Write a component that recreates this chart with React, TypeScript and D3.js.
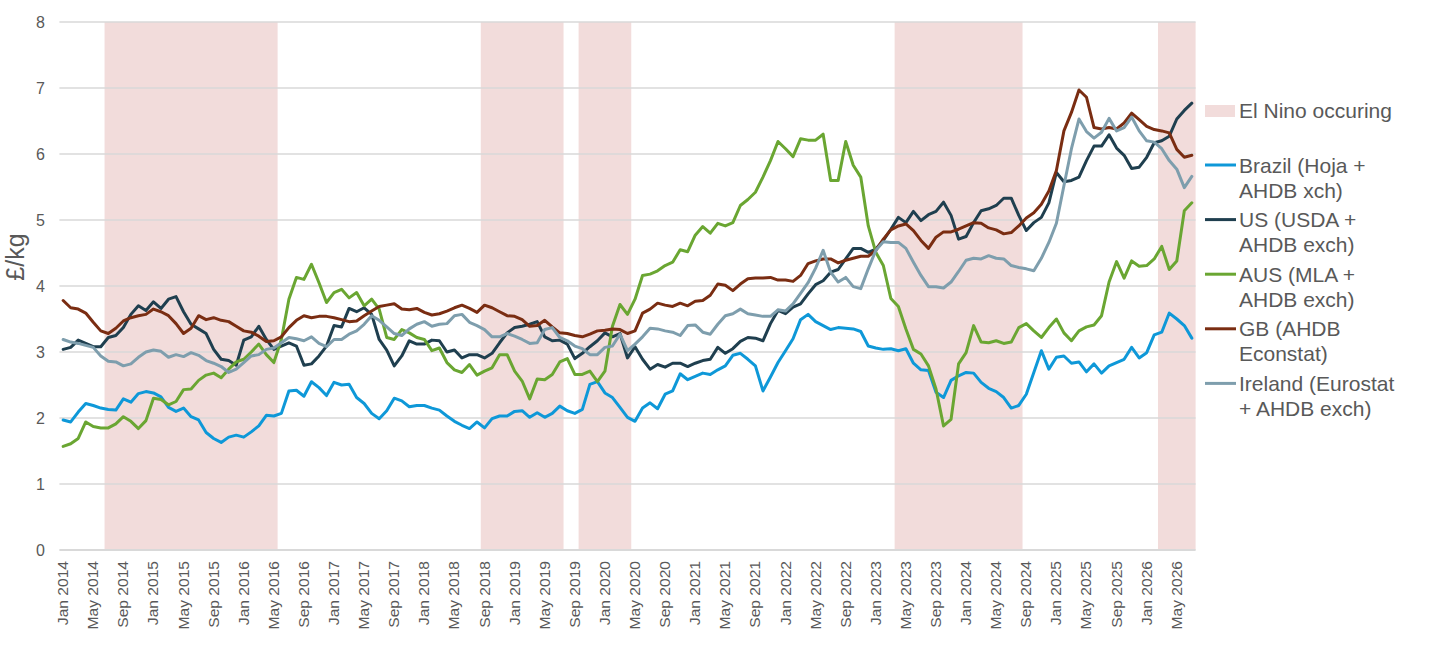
import { useEffect, useRef } from 'react'
import * as d3 from 'd3'

// Monthly categories Jan 2014 - Jul 2026
const months = d3.timeMonth.range(new Date(2014, 0, 1), new Date(2026, 7, 1))
const fmtMonth = d3.timeFormat('%b %Y')
const monthLabels = months.map(d => fmtMonth(d))

// El Nino periods (first and last month, inclusive)
const elNino: [string, string][] = [
  ['Jul 2014', 'May 2016'],
  ['Sep 2018', 'Jul 2019'],
  ['Oct 2019', 'Apr 2020'],
  ['Apr 2023', 'Aug 2024'],
  ['Mar 2026', 'Jul 2026'],
]

const yTicks = [0, 1, 2, 3, 4, 5, 6, 7, 8]

// £/kg
const brazil = [
  1.97, 1.94, 2.09, 2.22, 2.19, 2.15, 2.13, 2.12, 2.29, 2.24, 2.37, 2.40, 2.38, 2.32, 2.16, 2.10, 2.15, 2.02, 1.97, 1.78,
  1.69, 1.63, 1.71, 1.74, 1.71, 1.79, 1.88, 2.04, 2.03, 2.07, 2.41, 2.42, 2.33, 2.55, 2.46, 2.34, 2.54, 2.50, 2.51, 2.31,
  2.22, 2.07, 1.99, 2.11, 2.30, 2.26, 2.17, 2.19, 2.19, 2.15, 2.12, 2.03, 1.95, 1.89, 1.84, 1.94, 1.85, 1.99, 2.03, 2.03,
  2.10, 2.11, 2.01, 2.08, 2.01, 2.07, 2.18, 2.11, 2.07, 2.13, 2.51, 2.55, 2.38, 2.31, 2.16, 2.01, 1.95, 2.15, 2.23, 2.14,
  2.36, 2.41, 2.67, 2.58, 2.63, 2.68, 2.66, 2.73, 2.79, 2.95, 2.98, 2.89, 2.79, 2.41, 2.62, 2.84, 3.02, 3.20, 3.49, 3.57,
  3.46, 3.40, 3.34, 3.37, 3.36, 3.35, 3.31, 3.09, 3.06, 3.04, 3.05, 3.02, 3.05, 2.83, 2.73, 2.72, 2.39, 2.31, 2.57, 2.64,
  2.69, 2.68, 2.54, 2.45, 2.40, 2.31, 2.15, 2.19, 2.36, 2.69, 3.02, 2.74, 2.92, 2.94, 2.83, 2.85, 2.70, 2.82, 2.68, 2.79,
  2.84, 2.89, 3.07, 2.91, 2.99, 3.26, 3.30, 3.59, 3.50, 3.40, 3.21,
]

const us = [
  3.04, 3.07, 3.18, 3.13, 3.08, 3.08, 3.22, 3.25, 3.37, 3.57, 3.70, 3.63, 3.76, 3.66, 3.80, 3.84, 3.61, 3.42, 3.35, 3.28,
  3.04, 2.89, 2.87, 2.80, 3.18, 3.23, 3.39, 3.19, 3.04, 3.09, 3.14, 3.09, 2.80, 2.82, 2.94, 3.09, 3.40, 3.38, 3.66, 3.61,
  3.67, 3.57, 3.19, 3.03, 2.79, 2.94, 3.17, 3.12, 3.12, 3.18, 3.17, 3.00, 3.03, 2.91, 2.96, 2.96, 2.91, 2.98, 3.14, 3.29,
  3.37, 3.39, 3.42, 3.46, 3.23, 3.17, 3.18, 3.12, 2.90, 2.98, 3.08, 3.17, 3.29, 3.23, 3.28, 2.91, 3.08, 2.89, 2.74, 2.81,
  2.77, 2.83, 2.83, 2.78, 2.83, 2.87, 2.89, 3.07, 2.98, 3.05, 3.16, 3.22, 3.21, 3.17, 3.43, 3.63, 3.58, 3.68, 3.73, 3.88,
  4.02, 4.08, 4.21, 4.25, 4.41, 4.57, 4.57, 4.51, 4.56, 4.69, 4.86, 5.04, 4.96, 5.13, 4.99, 5.08, 5.13, 5.27, 5.07, 4.71,
  4.75, 4.96, 5.14, 5.17, 5.22, 5.33, 5.33, 5.07, 4.84, 4.96, 5.04, 5.26, 5.72, 5.58, 5.60, 5.65, 5.90, 6.12, 6.12, 6.29,
  6.09, 5.98, 5.78, 5.80, 5.95, 6.17, 6.20, 6.27, 6.53, 6.66, 6.77,
]

const aus = [
  1.57, 1.61, 1.69, 1.94, 1.87, 1.85, 1.85, 1.91, 2.02, 1.95, 1.84, 1.96, 2.30, 2.28, 2.20, 2.25, 2.43, 2.44, 2.57, 2.65,
  2.68, 2.61, 2.74, 2.85, 2.89, 3.00, 3.12, 2.96, 2.84, 3.19, 3.80, 4.13, 4.10, 4.33, 4.05, 3.75, 3.90, 3.95, 3.82, 3.90,
  3.70, 3.80, 3.65, 3.22, 3.19, 3.34, 3.29, 3.22, 3.19, 3.02, 3.06, 2.84, 2.73, 2.69, 2.81, 2.65, 2.71, 2.76, 2.96, 2.96,
  2.71, 2.56, 2.29, 2.59, 2.58, 2.66, 2.85, 2.90, 2.66, 2.66, 2.71, 2.55, 2.71, 3.39, 3.72, 3.57, 3.80, 4.16, 4.18, 4.23,
  4.31, 4.36, 4.55, 4.52, 4.77, 4.90, 4.80, 4.95, 4.91, 4.96, 5.22, 5.31, 5.42, 5.65, 5.90, 6.19, 6.08, 5.96, 6.23, 6.21,
  6.21, 6.30, 5.60, 5.60, 6.19, 5.83, 5.65, 4.91, 4.51, 4.31, 3.81, 3.69, 3.35, 3.04, 2.97, 2.79, 2.44, 1.88, 1.98, 2.82,
  2.99, 3.40, 3.15, 3.14, 3.17, 3.13, 3.15, 3.37, 3.43, 3.32, 3.22, 3.37, 3.50, 3.29, 3.17, 3.32, 3.38, 3.41, 3.55, 4.06,
  4.37, 4.12, 4.38, 4.30, 4.31, 4.41, 4.60, 4.25, 4.38, 5.14, 5.26,
]

const gb = [
  3.78, 3.67, 3.65, 3.59, 3.45, 3.32, 3.28, 3.36, 3.47, 3.52, 3.55, 3.57, 3.65, 3.61, 3.55, 3.43, 3.28, 3.36, 3.55, 3.49,
  3.52, 3.48, 3.46, 3.39, 3.32, 3.30, 3.24, 3.16, 3.17, 3.23, 3.37, 3.48, 3.55, 3.52, 3.54, 3.54, 3.52, 3.49, 3.46, 3.47,
  3.55, 3.62, 3.69, 3.71, 3.73, 3.65, 3.64, 3.66, 3.60, 3.56, 3.58, 3.62, 3.67, 3.71, 3.66, 3.60, 3.71, 3.67, 3.61, 3.55,
  3.54, 3.49, 3.39, 3.40, 3.48, 3.38, 3.29, 3.28, 3.25, 3.23, 3.27, 3.32, 3.33, 3.35, 3.34, 3.28, 3.32, 3.59, 3.65, 3.74,
  3.71, 3.69, 3.74, 3.70, 3.77, 3.78, 3.86, 4.03, 4.01, 3.93, 4.03, 4.11, 4.12, 4.12, 4.13, 4.09, 4.09, 4.07, 4.16, 4.34,
  4.38, 4.41, 4.41, 4.35, 4.39, 4.42, 4.45, 4.45, 4.54, 4.71, 4.85, 4.91, 4.94, 4.84, 4.69, 4.57, 4.74, 4.82, 4.82, 4.86,
  4.91, 4.96, 4.95, 4.88, 4.85, 4.79, 4.81, 4.91, 5.03, 5.11, 5.24, 5.44, 5.75, 6.35, 6.63, 6.97, 6.86, 6.40, 6.38, 6.40,
  6.38, 6.47, 6.62, 6.52, 6.42, 6.37, 6.35, 6.32, 6.07, 5.95, 5.98,
]

const ireland = [
  3.19, 3.15, 3.13, 3.10, 3.07, 2.94, 2.86, 2.85, 2.79, 2.82, 2.92, 3.00, 3.03, 3.01, 2.92, 2.96, 2.93, 2.99, 2.95, 2.87,
  2.83, 2.78, 2.69, 2.74, 2.84, 2.94, 2.96, 3.04, 3.06, 3.14, 3.22, 3.20, 3.17, 3.23, 3.13, 3.08, 3.19, 3.19, 3.27, 3.32,
  3.42, 3.55, 3.48, 3.38, 3.28, 3.25, 3.35, 3.42, 3.46, 3.39, 3.42, 3.43, 3.55, 3.57, 3.45, 3.40, 3.34, 3.23, 3.23, 3.28,
  3.24, 3.19, 3.13, 3.14, 3.34, 3.37, 3.22, 3.17, 3.09, 3.05, 2.96, 2.96, 3.07, 3.09, 3.27, 3.02, 3.12, 3.23, 3.36, 3.35,
  3.32, 3.30, 3.25, 3.40, 3.41, 3.30, 3.27, 3.42, 3.55, 3.58, 3.65, 3.58, 3.56, 3.54, 3.54, 3.64, 3.62, 3.73, 3.89, 4.05,
  4.27, 4.54, 4.21, 4.06, 4.13, 3.99, 3.96, 4.26, 4.54, 4.67, 4.66, 4.66, 4.57, 4.36, 4.16, 3.99, 3.99, 3.97, 4.06, 4.22,
  4.39, 4.42, 4.41, 4.46, 4.42, 4.41, 4.31, 4.28, 4.26, 4.23, 4.42, 4.66, 4.95, 5.52, 6.08, 6.53, 6.34, 6.24, 6.33, 6.54,
  6.35, 6.40, 6.56, 6.35, 6.20, 6.18, 6.08, 5.90, 5.77, 5.49, 5.66,
]

const series = [
  { label: ['Brazil (Hoja +', 'AHDB xch)'], color: '#0E98D8', values: brazil },
  { label: ['US (USDA +', 'AHDB exch)'], color: '#1F3F4F', values: us },
  { label: ['AUS (MLA +', 'AHDB exch)'], color: '#6AA632', values: aus },
  { label: ['GB (AHDB', 'Econstat)'], color: '#7A2D12', values: gb },
  { label: ['Ireland (Eurostat', '+ AHDB exch)'], color: '#7E9EAD', values: ireland },
]

const W = 1442
const H = 652
const FONT = '"Liberation Sans", Arial, sans-serif'
const TEXT = '#595959'

export default function App() {
  const ref = useRef<SVGSVGElement>(null)

  useEffect(() => {
    const svg = d3.select(ref.current)
    svg.selectAll('*').remove()

    const x = d3.scaleBand<string>().domain(monthLabels).range([59.4, 1195.6]).padding(0)
    const y = d3.scaleLinear().domain([0, 8]).range([550, 22])
    const bw = x.bandwidth()
    const cx = (m: string) => (x(m) as number) + bw / 2

    // El Nino shading
    svg.append('g')
      .selectAll('rect')
      .data(elNino)
      .enter().append('rect')
      .attr('x', d => x(d[0]) as number)
      .attr('width', d => (x(d[1]) as number) + bw - (x(d[0]) as number))
      .attr('y', y(8))
      .attr('height', y(0) - y(8))
      .attr('fill', '#F2DCDB')

    // Grid lines
    svg.append('g')
      .selectAll('line')
      .data(yTicks)
      .enter().append('line')
      .attr('x1', 59.4)
      .attr('x2', 1195.6)
      .attr('y1', d => y(d))
      .attr('y2', d => y(d))
      .attr('stroke', '#D9D9D9')
      .attr('stroke-width', d => (d === 0 ? 1.8 : 1.3))

    // Y tick labels
    svg.append('g')
      .selectAll('text')
      .data(yTicks)
      .enter().append('text')
      .attr('x', 45)
      .attr('y', d => y(d) + 5.8)
      .attr('text-anchor', 'end')
      .attr('font-family', FONT)
      .attr('font-size', 16)
      .attr('fill', TEXT)
      .text(d => d)

    svg.append('text')
      .attr('transform', 'translate(24,257) rotate(-90)')
      .attr('text-anchor', 'middle')
      .attr('font-family', FONT)
      .attr('font-size', 25)
      .attr('fill', TEXT)
      .text('£/kg')

    // X tick labels, every 4th month
    svg.append('g')
      .selectAll('text')
      .data(monthLabels.filter((_, i) => i % 4 === 0))
      .enter().append('text')
      .attr('transform', d => `translate(${cx(d) + 5},561) rotate(-90) scale(1,0.9)`)
      .attr('text-anchor', 'end')
      .attr('font-family', FONT)
      .attr('font-size', 15.6)
      .attr('fill', TEXT)
      .text(d => d)

    // Lines
    const line = d3.line<number>()
      .x((_, i) => cx(monthLabels[i]))
      .y(d => y(d))

    series.forEach(s => {
      svg.append('path')
        .datum(s.values)
        .attr('fill', 'none')
        .attr('stroke', s.color)
        .attr('stroke-width', 3)
        .attr('stroke-linejoin', 'round')
        .attr('stroke-linecap', 'round')
        .attr('d', line)
    })

    // Legend
    const lg = svg.append('g').attr('font-family', FONT).attr('font-size', 21).attr('fill', TEXT)
    lg.append('rect')
      .attr('x', 1205).attr('y', 105).attr('width', 30).attr('height', 12)
      .attr('fill', '#F2DCDB')
    lg.append('text').attr('x', 1239).attr('y', 118).text('El Nino occuring')

    series.forEach((s, i) => {
      const cy = 165 + i * 54.6
      lg.append('line')
        .attr('x1', 1205).attr('x2', 1236)
        .attr('y1', cy).attr('y2', cy)
        .attr('stroke', s.color)
        .attr('stroke-width', 3)
      s.label.forEach((t, j) => {
        lg.append('text')
          .attr('x', 1239)
          .attr('y', cy + 7.5 + j * 25)
          .text(t)
      })
    })
  }, [])

  return (
    <svg
      ref={ref}
      width={W}
      height={H}
      style={{ position: 'absolute', left: 0, top: 0, background: '#fff' }}
    />
  )
}
